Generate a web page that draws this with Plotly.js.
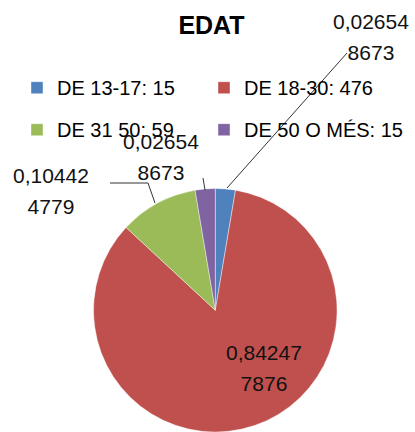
<!DOCTYPE html>
<html>
<head>
<meta charset="utf-8">
<script src="https://cdn.plot.ly/plotly-3.0.1.min.js"></script>
<style>html,body{margin:0;padding:0;background:#fff;}#chart{width:415px;height:432px;}</style>
</head>
<body>
<div id="chart"></div>
<script>
// ---- data ----
const categories = ['DE 13-17', 'DE 18-30', 'DE 31 50', 'DE 50 O MÉS'];
const counts = [15, 476, 59, 15];
const sliceColors = ['#4F81BD', '#C0504D', '#9BBB59', '#8064A2'];
const chartTitle = 'EDAT';

// ---- derived ----
const total = counts.reduce((a, b) => a + b, 0);
const legendLabels = categories.map((c, i) => c + ': ' + counts[i]);
const fracText = counts.map(v => {
  const s = (v / total).toFixed(9).replace('.', ',');
  return s.slice(0, 7) + '<br>' + s.slice(7);
});

const W = 415, H = 432;
const px = x => x / W;
const py = y => 1 - y / H;
const FONT = 'Liberation Sans, Arial, sans-serif';

// label centres (pixel positions, style only)
const labelPos = [[371, 37], [264, 368], [51, 191], [161, 157]];

const annotations = fracText.map((t, i) => ({
  xref: 'paper', yref: 'paper',
  x: px(labelPos[i][0]), y: py(labelPos[i][1]),
  xanchor: 'center', yanchor: 'middle',
  showarrow: false,
  text: t.split('<br>').map(p => '<span style="font-size:21px">' + p + '</span>').join('<br>'),
  font: {family: FONT, size: 24, color: '#111'}
}));

const lineStyle = {color: '#333', width: 1};
const shapes = [
  {type: 'line', xref: 'paper', yref: 'paper', x0: px(347), y0: py(53), x1: px(227), y1: py(188), line: lineStyle},
  {type: 'line', xref: 'paper', yref: 'paper', x0: px(203), y0: py(178), x1: px(205), y1: py(190), line: lineStyle},
  {type: 'path', xref: 'paper', yref: 'paper',
   path: `M ${px(110)} ${py(183)} L ${px(148)} ${py(183)} L ${px(155)} ${py(203)}`, line: lineStyle}
];

const trace = {
  type: 'pie',
  labels: legendLabels.map(l => '<span style="font-size:20px;baseline-shift:4px">' + l + '</span>'),
  values: counts,
  sort: false,
  direction: 'clockwise',
  rotation: 0,
  marker: {colors: sliceColors, line: {color: 'rgba(255,255,255,0.6)', width: 0.7}},
  textinfo: 'none',
  hoverinfo: 'skip',
  domain: {x: [0.2248, 0.8128], y: [0, 0.5637]}
};

const layout = {
  width: W, height: H,
  margin: {l: 0, r: 0, t: 0, b: 0, pad: 0},
  paper_bgcolor: '#fff',
  font: {family: FONT, color: '#000'},
  title: {
    text: '<b>' + chartTitle + '</b>',
    font: {family: FONT, size: 25, color: '#000'},
    x: px(211.5), xanchor: 'center', xref: 'paper',
    y: 1 - 16 / H, yanchor: 'top', yref: 'container'
  },
  showlegend: true,
  legend: {
    orientation: 'h',
    x: px(26), xanchor: 'left',
    y: py(56.5), yanchor: 'top',
    entrywidth: 142, entrywidthmode: 'pixels',
    font: {family: FONT, size: 30, color: '#000'},
    title: {text: 'M'.repeat(118), side: 'top', font: {family: FONT, size: 4, color: 'rgba(0,0,0,0)'}},
    itemclick: false, itemdoubleclick: false,
    bgcolor: 'rgba(0,0,0,0)', borderwidth: 0
  },
  annotations: annotations,
  shapes: shapes
};

Plotly.newPlot('chart', [trace], layout, {displayModeBar: false, staticPlot: true});
</script>
</body>
</html>
